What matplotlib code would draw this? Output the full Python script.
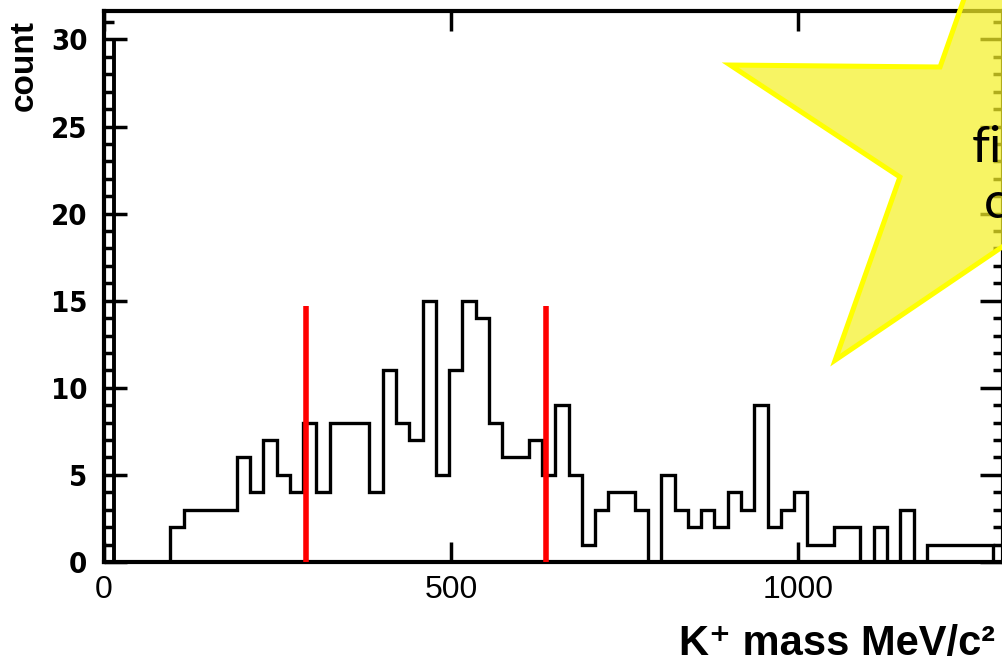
import numpy as np
import matplotlib
matplotlib.use("Agg")          # headless backend
import matplotlib.pyplot as plt
from matplotlib.patches import Polygon
from matplotlib import transforms

# K+ candidate mass spectrum, 68 equal bins over 0-1300 MeV/c^2
MASS_RANGE = (0, 1300)
N_BINS = 68
COUNTS = [0, 0, 0, 0, 0, 2, 3, 3, 3, 3,
          6, 4, 7, 5, 4, 8, 4, 8, 8, 8,
          4, 11, 8, 7, 15, 5, 11, 15, 14, 8,
          6, 6, 7, 5, 9, 5, 1, 3, 4, 4,
          3, 0, 5, 3, 2, 3, 2, 4, 3, 9,
          2, 3, 4, 1, 1, 2, 2, 0, 2, 0,
          3, 0, 1, 1, 1, 1, 1, 0]

# mass window cuts (red markers)
CUT_MASSES = [291, 637]
CUT_HEIGHT = 14.7

X_TICKS = [0, 500, 1000]
Y_TICKS = [0, 5, 10, 15, 20, 25, 30]

STAR_TEXT = "final\ncut"

W, H = 1003, 664          # output size in pixels
SANS = ["Liberation Sans", "DejaVu Sans"]


def px(x, y):
    """pixel position (origin top-left) -> figure fraction"""
    return x / W, 1 - y / H


def star_vertices(cx, cy, rx_out, ry_out, rx_in, ry_in):
    pts = []
    for k in range(10):
        ang = np.deg2rad(90 + 36 * k)
        if k % 2 == 0:
            rx, ry = rx_out, ry_out
        else:
            rx, ry = rx_in, ry_in
        pts.append(px(cx + rx * np.cos(ang), cy - ry * np.sin(ang)))
    return pts


def main():
    fig = plt.figure(figsize=(W / 100, H / 100), dpi=100)
    left, right, top, bottom = 104, 1003, 10.7, 562
    ax = fig.add_axes([left / W, 1 - bottom / H, (right - left) / W, (bottom - top) / H])

    edges = np.linspace(MASS_RANGE[0], MASS_RANGE[1], N_BINS + 1)
    ax.stairs(COUNTS, edges, color="black", linewidth=2.4, zorder=3)
    ax.vlines(CUT_MASSES, 0, CUT_HEIGHT, color="#ff0000", linewidth=4.0, zorder=4)

    ax.set_xlim(0, 1295)
    ax.set_ylim(0, 31.65)

    for sp in ax.spines.values():
        sp.set_linewidth(3.0)

    ax.set_xticks(X_TICKS)
    ax.set_yticks(Y_TICKS)
    ax.set_yticks(np.arange(0, 32), minor=True)
    ax.tick_params(which="both", direction="in", width=2.5, top=True, right=True)
    ax.tick_params(axis="x", which="major", length=14.5, pad=9)
    ax.tick_params(axis="y", which="major", length=16.5, pad=12)
    ax.tick_params(axis="y", which="minor", length=7.5)

    for lab in ax.get_xticklabels():
        lab.set_fontfamily(SANS)
        lab.set_fontsize(23)
    for lab in ax.get_yticklabels():
        lab.set_fontfamily("DejaVu Sans")
        lab.set_fontstretch("condensed")
        lab.set_fontweight("bold")
        lab.set_fontsize(21)

    # inner rail of the y axis ladder
    rail = transforms.blended_transform_factory(ax.transAxes, ax.transData) + \
        transforms.ScaledTranslation(10.5 / 100, 0, fig.dpi_scale_trans)
    ax.plot([0, 0], [0, 30], color="black", linewidth=2.8, transform=rail,
            clip_on=False, solid_capstyle="butt", zorder=5)

    fig.text(*px(24, 20), "count", rotation=90, ha="center", va="top",
             fontsize=24, fontweight="bold", family=SANS)
    fig.text(*px(995, 655), "K\u207a mass MeV/c\u00b2", ha="right", va="baseline",
             fontsize=30, fontweight="bold", family=SANS)

    # highlight star
    star = Polygon(star_vertices(1005, 146.6, 289, 264, 110.5, 98.4),
                   closed=True, transform=fig.transFigure,
                   facecolor=(245 / 255, 240 / 255, 40 / 255, 0.72),
                   edgecolor="#ffff00", linewidth=3.6, zorder=10)
    fig.add_artist(star)
    fig.text(*px(1020, 176), STAR_TEXT, ha="center", va="center",
             multialignment="center", fontsize=37, family=["Lato", "DejaVu Sans"],
             linespacing=1.25, zorder=11)

    fig.savefig("out.png", dpi=100)
    plt.close(fig)


if __name__ == "__main__":
    main()
